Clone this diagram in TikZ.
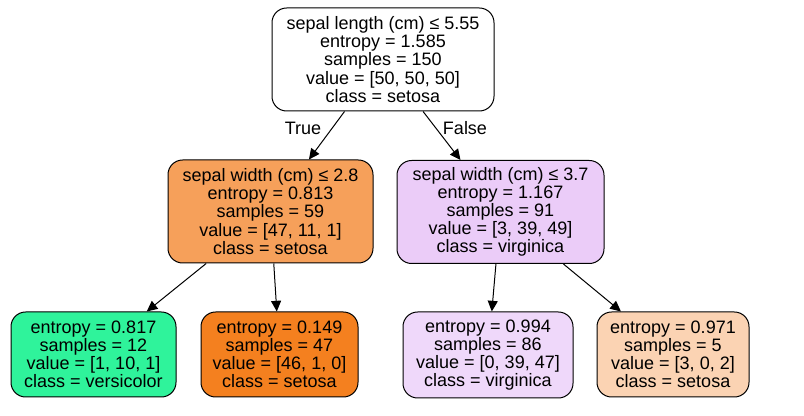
\documentclass[tikz,border=0pt]{standalone}
\usepackage{fontspec}
\setmainfont{Liberation Sans}
\usetikzlibrary{arrows.meta, positioning}
\definecolor{tsetosalt}{HTML}{F6A05A}
\definecolor{tsetosadk}{HTML}{F4801F}
\definecolor{tsetosapl}{HTML}{FBD3B3}
\definecolor{tversi}{HTML}{2FF39B}
\definecolor{tvirgmd}{HTML}{EBCCF8}
\definecolor{tvirglt}{HTML}{EFD8FA}
\tikzset{
  treenode/.style = {draw=black, line width=0.75pt, rounded corners=11pt,
                     align=center, inner sep=0pt,
                     font=\fontsize{13.5}{13.6}\selectfont},
  treeedge/.style = {-{Triangle[length=8pt, width=7.5pt]}, line width=0.75pt},
  branchlab/.style = {font=\fontsize{13.5}{13.6}\selectfont, inner sep=0pt},
}

\begin{document}
\begin{tikzpicture}[x=0.75pt, y=-0.75pt]
  \useasboundingbox (0,0) rectangle (804,416);
  % split nodes
  \node[treenode, fill=white, minimum width=166.5pt, minimum height=77.25pt]
    (root) at (383,59.5) {sepal length (cm) ≤ 5.55\\entropy = 1.585\\samples = 150\\value = [50, 50, 50]\\class = setosa};
  \node[treenode, fill=tsetosalt, minimum width=153.75pt, minimum height=77.25pt]
    (lsplit) at (270.5,211.5) {sepal width (cm) ≤ 2.8\\entropy = 0.813\\samples = 59\\value = [47, 11, 1]\\class = setosa};
  \node[treenode, fill=tvirgmd, minimum width=155.25pt, minimum height=77.25pt]
    (rsplit) at (500.5,212) {sepal width (cm) ≤ 3.7\\entropy = 1.167\\samples = 91\\value = [3, 39, 49]\\class = virginica};
  % leaves
  \node[treenode, fill=tversi, minimum width=123.75pt, minimum height=63.75pt]
    (leafa) at (93.5,354.5) {entropy = 0.817\\samples = 12\\value = [1, 10, 1]\\class = versicolor};
  \node[treenode, fill=tsetosadk, minimum width=117.75pt, minimum height=63.75pt]
    (leafb) at (279.5,354.5) {entropy = 0.149\\samples = 47\\value = [46, 1, 0]\\class = setosa};
  \node[treenode, fill=tvirglt, minimum width=127.5pt, minimum height=64.5pt]
    (leafc) at (488,355) {entropy = 0.994\\samples = 86\\value = [0, 39, 47]\\class = virginica};
  \node[treenode, fill=tsetosapl, minimum width=114pt, minimum height=63.75pt]
    (leafd) at (673,354.5) {entropy = 0.971\\samples = 5\\value = [3, 0, 2]\\class = setosa};
  % edges
  \draw[treeedge] (root) -- (lsplit);
  \draw[treeedge] (root) -- (rsplit);
  \draw[treeedge] (lsplit) -- (leafa);
  \draw[treeedge] (lsplit) -- (leafb);
  \draw[treeedge] (rsplit) -- (leafc);
  \draw[treeedge] (rsplit) -- (leafd);
  \node[branchlab] (truelab) at (303,128) {True};
  \node[branchlab] (falselab) at (465,128) {False};
\end{tikzpicture}
\end{document}
